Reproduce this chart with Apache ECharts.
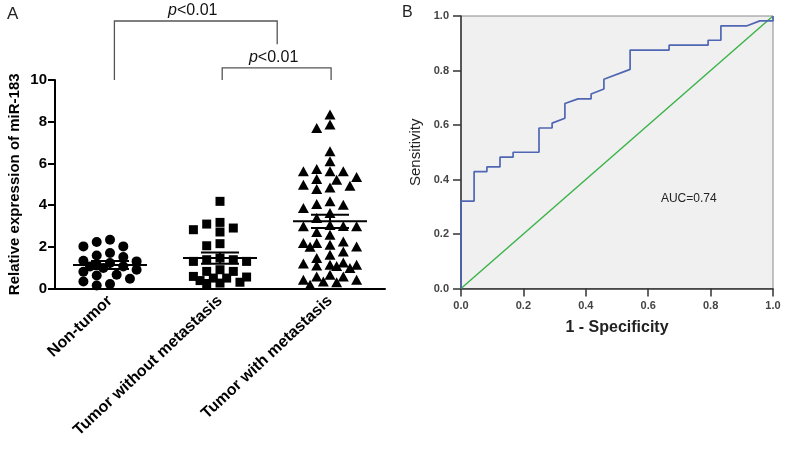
<!DOCTYPE html>
<html>
<head>
<meta charset="utf-8">
<script src="https://cdn.jsdelivr.net/npm/echarts@6/dist/echarts.min.js"></script>
<style>
html,body{margin:0;padding:0;background:#fff;}
#chart{width:789px;height:455px;}
</style>
</head>
<body>
<div id="chart"></div>
<script>
// ---------- data ----------
const categories = ['Non-tumor', 'Tumor without metastasis', 'Tumor with metastasis'];
const nonTumor = [2.34, 2.23, 2.02, 2.02, 1.70, 1.58, 1.51, 1.30, 1.33, 1.06, 1.22, 1.14, 1.06, 0.90, 0.98, 0.62, 0.66, 0.80, 0.34, 0.47, 0.14, 0.21];
const tumorNoMet = [4.18, 3.09, 2.82, 2.71, 2.90, 3.17, 2.05, 2.15, 1.30, 1.38, 1.46, 1.30, 1.38, 0.82, 0.90, 0.82, 0.50, 0.58, 0.50, 0.55, 0.38, 0.26, 0.24, 0.30];
const tumorMet = [8.34, 7.86, 7.70, 6.58, 6.10, 5.73, 5.62, 5.62, 5.62, 5.25, 5.35, 5.22, 4.93, 4.77, 4.85, 4.98,
  4.18, 4.02, 3.86, 4.05, 3.62, 3.38, 2.98, 2.71, 2.98, 3.05, 3.00, 2.58, 2.18, 2.02, 2.26, 2.18, 2.00, 2.10,
  1.78, 1.62, 1.46, 1.25, 1.14, 1.10, 0.98, 1.14, 1.20, 1.08, 0.42, 0.34, 0.18, 0.30, 0.42, 0.58, 0.58, 0.66];
const groupMean = [1.13, 1.46, 3.22];
const groupSem = [0.19, 0.27, 0.32];
// significance brackets in data units (group position / expression level)
const bracketFrom = [0.04, 1.02];
const bracketTo = [1.52, 2.01];
const bracketTop = [12.83, 10.58];
const bracketLeftEnd = [10.0, 10.0];
const bracketRightEnd = [11.72, 10.0];
const bracketLabel = ['p<0.01', 'p<0.01'];
// ROC curve
const rocFpr = [0, 0, 0.042, 0.042, 0.083, 0.083, 0.125, 0.125, 0.167, 0.167, 0.25, 0.25, 0.292, 0.292, 0.333, 0.333, 0.375, 0.417, 0.417, 0.458, 0.458, 0.542, 0.542, 0.667, 0.667, 0.792, 0.792, 0.833, 0.833, 0.917, 0.958, 1.0, 1.0];
const rocTpr = [0, 0.321, 0.321, 0.429, 0.429, 0.446, 0.446, 0.482, 0.482, 0.5, 0.5, 0.589, 0.589, 0.607, 0.625, 0.679, 0.696, 0.696, 0.714, 0.732, 0.768, 0.804, 0.875, 0.875, 0.893, 0.893, 0.911, 0.911, 0.964, 0.964, 0.982, 0.982, 1.0];
const refFpr = [0, 1];
const refTpr = [0, 1];
const aucText = 'AUC=0.74';
const aucPos = [0.73, 0.33];

// ---------- layout ----------
const FONT = '"Liberation Sans", Arial, Helvetica, sans-serif';
const GRID_A = {left: 55, top: 80, width: 330, height: 208.5};
const GRID_B = {left: 461, top: 16, width: 312, height: 272.5};

// beeswarm offsets computed from the values (GraphPad-like columns)
function swarm(values, g, size) {
  const pxX = GRID_A.width / 3, pxY = GRID_A.height / 10, col = 13.3;
  const cands = [0, -1, 1, -2, 2, -0.5, 0.5, -1.5, 1.5];
  const order = values.map((v, i) => i).sort((a, b) => values[b] - values[a]);
  const placed = [], out = new Array(values.length);
  order.forEach(i => {
    const y = values[i] * pxY;
    let best = null, bestD = -1;
    for (const k of cands) {
      const x = k * col;
      let d = Infinity;
      placed.forEach(p => { d = Math.min(d, Math.hypot(p[0] - x, p[1] - y)); });
      if (d >= size * 0.95) { best = x; break; }
      if (d > bestD) { bestD = d; best = x; }
    }
    placed.push([best, y]);
    out[i] = [g + best / pxX, values[i]];
  });
  return out;
}

const chart = echarts.init(document.getElementById('chart'), null, {renderer: 'canvas'});

const option = {
  animation: false,
  backgroundColor: '#ffffff',
  textStyle: {fontFamily: FONT},
  grid: [
    Object.assign({containLabel: false}, GRID_A),
    Object.assign({containLabel: false, show: true, backgroundColor: '#f0f0f0', borderColor: '#8a8a8a', borderWidth: 1}, GRID_B)
  ],
  xAxis: [
    {
      type: 'category', gridIndex: 0, data: categories, boundaryGap: true,
      axisLine: {onZero: false, lineStyle: {color: '#000', width: 2}},
      axisTick: {alignWithLabel: true, length: 7, lineStyle: {color: '#000', width: 2}},
      axisLabel: {rotate: 43, margin: 10, color: '#000', fontSize: 16, fontWeight: 'bold', fontFamily: FONT, interval: 0},
      splitLine: {show: false}
    },
    {type: 'value', gridIndex: 0, min: -0.5, max: 2.5, show: false},
    {
      type: 'value', gridIndex: 1, min: 0, max: 1, interval: 0.2,
      name: '1 - Specificity', nameLocation: 'middle', nameGap: 31,
      nameTextStyle: {color: '#222', fontSize: 16, fontWeight: 'bold', fontFamily: FONT},
      axisLine: {onZero: false, lineStyle: {color: '#333', width: 1.5}},
      axisTick: {length: 8, lineStyle: {color: '#333', width: 1.5}},
      axisLabel: {margin: 12, color: '#444', fontSize: 11, fontWeight: 'bold', fontFamily: FONT, formatter: v => v.toFixed(1)},
      splitLine: {show: false}
    }
  ],
  yAxis: [
    {
      type: 'value', gridIndex: 0, min: 0, max: 10, interval: 2,
      name: 'Relative expression of miR-183', nameLocation: 'middle', nameGap: 33,
      nameTextStyle: {color: '#000', fontSize: 15, fontWeight: 'bold', fontFamily: FONT},
      axisLine: {show: true, onZero: false, lineStyle: {color: '#000', width: 2}},
      axisTick: {show: true, length: 7, lineStyle: {color: '#000', width: 2}},
      axisLabel: {margin: 8, color: '#000', fontSize: 15, fontWeight: 'bold', fontFamily: FONT},
      splitLine: {show: false}
    },
    {
      type: 'value', gridIndex: 1, min: 0, max: 1, interval: 0.2,
      name: 'Sensitivity', nameLocation: 'middle', nameGap: 38,
      nameTextStyle: {color: '#222', fontSize: 15, fontFamily: FONT},
      axisLine: {show: true, onZero: false, lineStyle: {color: '#333', width: 1.5}},
      axisTick: {show: true, length: 8, lineStyle: {color: '#333', width: 1.5}},
      axisLabel: {margin: 12, color: '#444', fontSize: 11, fontWeight: 'bold', fontFamily: FONT, formatter: v => v.toFixed(1)},
      splitLine: {show: false}
    }
  ],
  series: [
    {type: 'scatter', xAxisIndex: 1, yAxisIndex: 0, symbol: 'circle', symbolSize: 10,
      itemStyle: {color: '#000', opacity: 1}, data: swarm(nonTumor, 0, 10), z: 2},
    {type: 'scatter', xAxisIndex: 1, yAxisIndex: 0, symbol: 'rect', symbolSize: 9,
      itemStyle: {color: '#000', opacity: 1}, data: swarm(tumorNoMet, 1, 9.5), z: 2},
    {type: 'scatter', xAxisIndex: 1, yAxisIndex: 0, symbol: 'triangle', symbolSize: [11, 10],
      itemStyle: {color: '#000', opacity: 1}, data: swarm(tumorMet, 2, 10), z: 2},
    {
      type: 'custom', xAxisIndex: 1, yAxisIndex: 0, z: 5,
      data: groupMean.map((m, i) => [i, m, groupSem[i]]),
      renderItem: function (params, api) {
        const g = api.value(0), m = api.value(1), s = api.value(2);
        const c = api.coord([g, m]), up = api.coord([g, m + s]), lo = api.coord([g, m - s]);
        const st = {stroke: '#000', lineWidth: 2};
        return {type: 'group', children: [
          {type: 'line', shape: {x1: c[0] - 37, y1: c[1], x2: c[0] + 37, y2: c[1]}, style: st},
          {type: 'line', shape: {x1: c[0] - 19, y1: up[1], x2: c[0] + 19, y2: up[1]}, style: st},
          {type: 'line', shape: {x1: c[0] - 19, y1: lo[1], x2: c[0] + 19, y2: lo[1]}, style: st},
          {type: 'line', shape: {x1: c[0], y1: up[1], x2: c[0], y2: lo[1]}, style: st}
        ]};
      }
    },
    {
      type: 'custom', xAxisIndex: 1, yAxisIndex: 0, z: 5, clip: false,
      data: bracketFrom.map((f, i) => [f, bracketTo[i], bracketTop[i], bracketLeftEnd[i], bracketRightEnd[i]]),
      renderItem: function (params, api) {
        const x1 = api.value(0), x2 = api.value(1), t = api.value(2), lb = api.value(3), rb = api.value(4);
        const p1 = api.coord([x1, lb]), p2 = api.coord([x1, t]), p3 = api.coord([x2, t]), p4 = api.coord([x2, rb]);
        const label = bracketLabel[params.dataIndex];
        return {type: 'group', children: [
          {type: 'polyline', shape: {points: [p1, p2, p3, p4]}, style: {stroke: '#555', lineWidth: 1.3, fill: null}},
          {type: 'text', style: {
            x: (p2[0] + p3[0]) / 2 - 3, y: p2[1] - 10,
            text: '{i|' + label.charAt(0) + '}{n|' + label.slice(1) + '}',
            align: 'center', verticalAlign: 'middle',
            rich: {
              i: {fontStyle: 'italic', fontSize: 16, fontFamily: FONT, fill: '#111'},
              n: {fontSize: 16, fontFamily: FONT, fill: '#111'}
            }
          }}
        ]};
      }
    },
    {
      type: 'line', xAxisIndex: 2, yAxisIndex: 1, showSymbol: false, symbol: 'none',
      lineStyle: {color: '#3db34a', width: 1.5},
      data: refFpr.map((x, i) => [x, refTpr[i]]), z: 3
    },
    {
      type: 'line', xAxisIndex: 2, yAxisIndex: 1, showSymbol: false, symbol: 'none',
      lineStyle: {color: '#4f66b3', width: 1.7},
      data: rocFpr.map((x, i) => [x, rocTpr[i]]), z: 4
    },
    {
      type: 'scatter', xAxisIndex: 2, yAxisIndex: 1, symbolSize: 0, silent: true,
      itemStyle: {opacity: 1},
      data: [aucPos],
      label: {show: true, position: 'inside', formatter: aucText, color: '#222', fontSize: 12, fontFamily: FONT}
    }
  ],
  graphic: [
    {type: 'text', left: 7, top: 6, style: {text: 'A', fontSize: 17, fontFamily: FONT, fill: '#222'}},
    {type: 'text', left: 402, top: 5, style: {text: 'B', fontSize: 16, fontFamily: FONT, fill: '#222'}}
  ]
};
chart.setOption(option);
</script>
</body>
</html>
